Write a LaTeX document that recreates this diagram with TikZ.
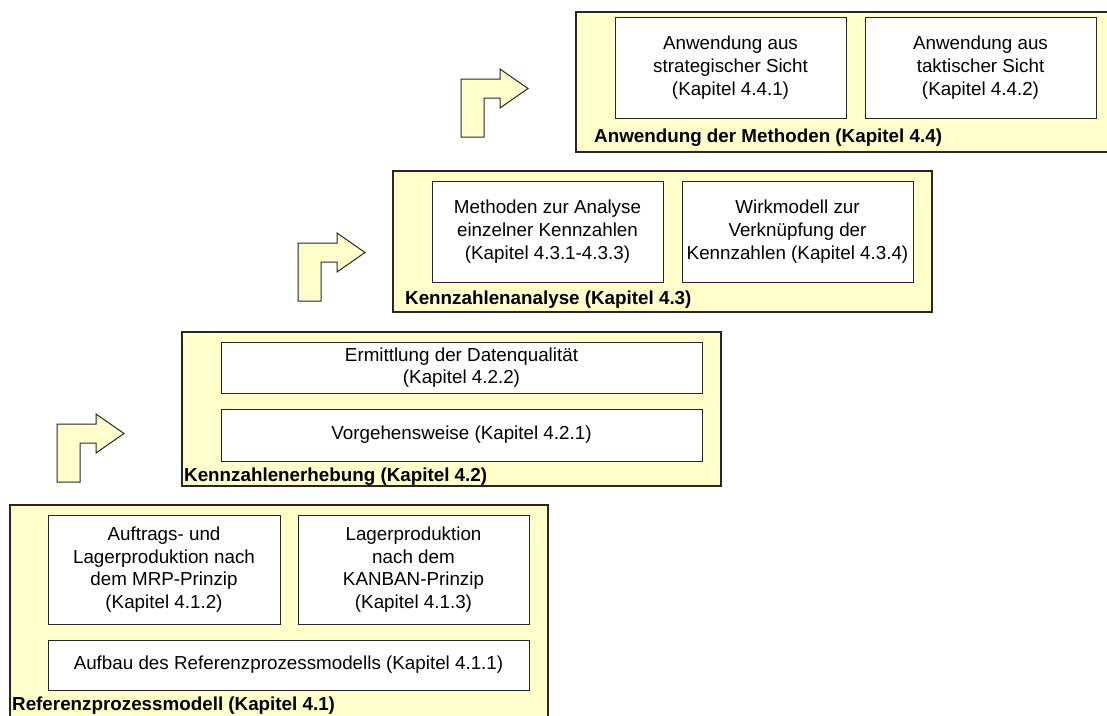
\documentclass[tikz,border=0pt]{standalone}
\usepackage{fontspec}
\setmainfont{Liberation Sans}
\usetikzlibrary{positioning}
\definecolor{paleyellow}{HTML}{FFFFCC}

\begin{document}
\begin{tikzpicture}[x=1pt,y=-1pt,
    group/.style={draw=black!85,line width=1.1pt,fill=paleyellow,anchor=north west,inner sep=0pt,outer sep=0pt},
    item/.style={draw=black!85,line width=0.9pt,fill=white,anchor=north west,inner sep=0pt,outer sep=0pt,
        align=center,font=\fontsize{18.8}{22.7}\selectfont},
    grouplabel/.style={anchor=west,inner sep=0pt,font=\fontsize{18.8}{22.7}\selectfont\bfseries},
    turn/.style={draw=black!85,line width=1pt,fill=paleyellow,line join=miter}]
    \clip (0,0) rectangle (1107,715);

    % Referenzprozessmodell
    \node[group,minimum width=538pt,minimum height=240pt] (ref) at (10,505) {};
    \node[item,minimum width=232pt,minimum height=109pt] (refMrp) at (48,515)
        {Auftrags- und\\Lagerproduktion nach\\dem MRP-Prinzip\\(Kapitel 4.1.2)};
    \node[item,minimum width=231pt,minimum height=109pt] (refKanban) at (298,515)
        {Lagerproduktion\\nach dem\\KANBAN-Prinzip\\(Kapitel 4.1.3)};
    \node[item,minimum width=481pt,minimum height=50pt] (refAufbau) at (48,640)
        {Aufbau des Referenzprozessmodells (Kapitel 4.1.1)};
    \node[grouplabel] (refLabel) at (12,706) {Referenzprozessmodell (Kapitel 4.1)};

    % Kennzahlenerhebung
    \node[group,minimum width=539pt,minimum height=154pt] (erh) at (182,332) {};
    \node[item,minimum width=481pt,minimum height=51pt] (erhDaten) at (221,342)
        {Ermittlung der Datenqualität\\(Kapitel 4.2.2)};
    \node[item,minimum width=481pt,minimum height=52pt] (erhVorgehen) at (221,409)
        {Vorgehensweise (Kapitel 4.2.1)};
    \node[grouplabel] (erhLabel) at (184,477) {Kennzahlenerhebung (Kapitel 4.2)};

    % Kennzahlenanalyse
    \node[group,minimum width=539pt,minimum height=141pt] (ana) at (393,171) {};
    \node[item,minimum width=231pt,minimum height=101pt] (anaMethoden) at (432,181)
        {Methoden zur Analyse\\einzelner Kennzahlen\\(Kapitel 4.3.1-4.3.3)};
    \node[item,minimum width=231pt,minimum height=101pt] (anaWirk) at (682,181)
        {Wirkmodell zur\\Verknüpfung der\\Kennzahlen (Kapitel 4.3.4)};
    \node[grouplabel] (anaLabel) at (405,300) {Kennzahlenanalyse (Kapitel 4.3)};

    % Anwendung der Methoden
    \node[group,minimum width=539pt,minimum height=140pt] (anw) at (576,12) {};
    \node[item,minimum width=231pt,minimum height=101pt] (anwStrat) at (615,17)
        {Anwendung aus\\strategischer Sicht\\(Kapitel 4.4.1)};
    \node[item,minimum width=231pt,minimum height=101pt] (anwTakt) at (865,17)
        {Anwendung aus\\taktischer Sicht\\(Kapitel 4.4.2)};
    \node[grouplabel] (anwLabel) at (594,138) {Anwendung der Methoden (Kapitel 4.4)};

    % Pfeile
    \foreach \x/\y in {57/424, 298/243, 461/79} {
        \draw[turn] (\x,\y+58) -- (\x,\y) -- (\x+39,\y) -- (\x+39,\y-10) -- (\x+67,\y+9.5)
            -- (\x+39,\y+29) -- (\x+39,\y+19) -- (\x+23,\y+19) -- (\x+23,\y+58) -- cycle;
    }
\end{tikzpicture}
\end{document}
